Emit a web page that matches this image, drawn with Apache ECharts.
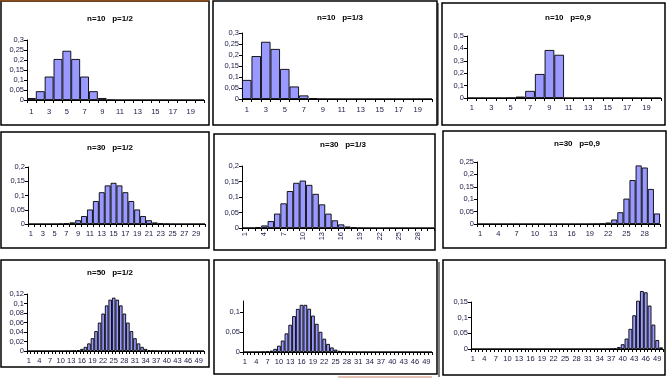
<!DOCTYPE html>
<html><head><meta charset="utf-8">
<script src="https://cdn.jsdelivr.net/npm/echarts@6/dist/echarts.min.js"></script>
<style>html,body{margin:0;padding:0;background:#fff}#c{width:669px;height:378px}</style>
</head><body><div id="c"></div>
<script>
const cats20 = [1,2,3,4,5,6,7,8,9,10,11,12,13,14,15,16,17,18,19,20];
const cats30 = [1,2,3,4,5,6,7,8,9,10,11,12,13,14,15,16,17,18,19,20,21,22,23,24,25,26,27,28,29,30];
const cats50 = [1,2,3,4,5,6,7,8,9,10,11,12,13,14,15,16,17,18,19,20,21,22,23,24,25,26,27,28,29,30,31,32,33,34,35,36,37,38,39,40,41,42,43,44,45,46,47,48,49,50];

const n10p12 = [0.0098,0.0439,0.1172,0.2051,0.2461,0.2051,0.1172,0.0439,0.0098,0.001,0,0,0,0,0,0,0,0,0,0];
const n10p13 = [0.0867,0.1951,0.2601,0.2276,0.1366,0.0569,0.0163,0.0030,0.0003,0.0001,0,0,0,0,0,0,0,0,0,0];
const n10p09 = [0,0,0,0.0001,0.0015,0.0112,0.0574,0.1937,0.3874,0.3487,0,0,0,0,0,0,0,0,0,0];
const n30p12 = [0,0,0,0,0.0001,0.0006,0.0019,0.0055,0.0133,0.0280,0.0509,0.0806,0.1115,0.1354,0.1445,0.1354,0.1115,0.0806,0.0509,0.0280,0.0133,0.0055,0.0019,0.0006,0.0001,0,0,0,0,0];
const n30p13 = [0.0001,0.0005,0.0024,0.0082,0.0223,0.0464,0.0795,0.1192,0.1457,0.1530,0.1391,0.1101,0.0762,0.0463,0.0247,0.0116,0.0048,0.0017,0.0005,0.0002,0,0,0,0,0,0,0,0,0,0];
const n30p09 = [0,0,0,0,0,0,0,0,0,0,0,0,0,0,0,0,0,0,0.0001,0.0004,0.0016,0.0058,0.0180,0.0474,0.1023,0.1771,0.2361,0.2277,0.1413,0.0424];
const n50p12 = [0,0,0,0,0,0,0,0,0,0,0,0.0001,0.0003,0.0008,0.0020,0.0044,0.0087,0.0160,0.0270,0.0419,0.0598,0.0788,0.0960,0.1080,0.1123,0.1080,0.0960,0.0788,0.0598,0.0419,0.0270,0.0160,0.0087,0.0044,0.0020,0.0008,0.0003,0.0001,0,0,0,0,0,0,0,0,0,0,0,0];
const n50p13 = [0,0,0,0,0.0001,0.0004,0.0012,0.0033,0.0077,0.0157,0.0286,0.0465,0.0680,0.0898,0.1078,0.1179,0.1179,0.1081,0.0910,0.0705,0.0504,0.0332,0.0202,0.0114,0.0059,0.0028,0.0013,0.0005,0.0002,0.0001,0,0,0,0,0,0,0,0,0,0,0,0,0,0,0,0,0,0,0,0];
const n50p09 = [0,0,0,0,0,0,0,0,0,0,0,0,0,0,0,0,0,0,0,0,0,0,0,0,0,0,0,0,0,0,0,0,0,0,0,0.0002,0.0007,0.0022,0.0061,0.0152,0.0333,0.0643,0.1076,0.1541,0.1849,0.1809,0.1386,0.0779,0.0286,0.0052];

const titles = ['n=10   p=1/2','n=10   p=1/3','n=10   p=0,9','n=30   p=1/2','n=30   p=1/3','n=30   p=0,9','n=50   p=1/2','',''];

const panels = [
  {cats:cats20, vals:n10p12, g:[27,40,177,60], max:0.3, iv:0.05, li:1, t:[105,10], m:8},
  {cats:cats20, vals:n10p13, g:[242,33,190,66], max:0.3, iv:0.05, li:1, t:[335,9], m:7},
  {cats:cats20, vals:n10p09, g:[467,36,194,62], max:0.5, iv:0.1, li:1, t:[563,9], m:6},
  {cats:cats30, vals:n30p12, g:[28,167,177,57], max:0.2, iv:0.05, li:1, t:[105,139], m:6},
  {cats:cats30, vals:n30p13, g:[242,166,192,62], max:0.2, iv:0.05, li:2, t:[338,136], m:4, rot:90},
  {cats:cats30, vals:n30p09, g:[477,162,183,62], max:0.25, iv:0.05, li:2, t:[572,135], m:6},
  {cats:cats50, vals:n50p12, g:[27,294,177,57], max:0.12, iv:0.02, li:2, t:[105,264], m:6},
  {cats:cats50, vals:n50p13, g:[243,301,189,51], max:0.1275, iv:0.05, li:2, t:[338,264], m:6},
  {cats:cats50, vals:n50p09, g:[471,302,192,47], max:0.15, iv:0.05, li:2, t:[563,264], m:6}
];

const frames = [
  [1,1,208,124],[213,1,224,124],[442,3,223,122],
  [1,132,208,116],[214,134,221,116],[443,131,223,117],
  [1,260,208,107],[214,260,223,114],[443,260,222,115]
];

const txtCol = '#20204a';
const fmt = iv => v => {
  if (v === 0) return '0';
  const r = Math.round(v / iv);
  if (Math.abs(r * iv - v) > 1e-6) return '';
  return String(+v.toFixed(4)).replace('.', ',');
};

const option = {
  animation: false,
  backgroundColor: '#fff',
  title: panels.map((p, i) => ({
    text: titles[i], left: p.t[0], top: p.t[1], textAlign: 'center',
    textStyle: {fontFamily: 'Liberation Sans', fontSize: 8, fontWeight: 'bold', color: '#000'}
  })),
  grid: panels.map(p => ({left: p.g[0], top: p.g[1], width: p.g[2], height: p.g[3], containLabel: false})),
  xAxis: panels.map((p, i) => ({
    type: 'category', gridIndex: i, data: p.cats, boundaryGap: true,
    axisLine: {lineStyle: {color: '#000', width: 1}},
    axisTick: {show: true, interval: 0, length: 3, lineStyle: {color: '#000'}},
    axisLabel: {interval: p.li, fontSize: 7.5, fontFamily: 'Liberation Sans', color: txtCol, margin: p.m, rotate: p.rot || 0},
    splitLine: {show: false}
  })),
  yAxis: panels.map((p, i) => ({
    type: 'value', gridIndex: i, min: 0, max: p.max, interval: p.iv,
    axisLine: {show: true, lineStyle: {color: '#000', width: 1}},
    axisTick: {show: true, length: 3, lineStyle: {color: '#000'}},
    axisLabel: {fontSize: 7.5, fontFamily: 'Liberation Sans', color: txtCol, margin: 3, formatter: fmt(p.iv), showMaxLabel: p.max !== 0.1275},
    splitLine: {show: false}
  })),
  series: panels.map((p, i) => ({
    type: 'bar', xAxisIndex: i, yAxisIndex: i, data: p.vals,
    barCategoryGap: 0, clip: false,
    itemStyle: {color: '#9999ff', borderColor: '#000', borderWidth: 0.9}
  })),
  graphic: frames.map(f => ({
    type: 'rect', shape: {x: f[0], y: f[1], width: f[2], height: f[3]},
    style: {fill: 'none', stroke: '#000', lineWidth: 1.5}, silent: true, z: 100
  })).concat([
    {type: 'line', shape: {x1: 0, y1: 0.7, x2: 209, y2: 0.7}, style: {stroke: '#8a4a1a', lineWidth: 1.4}, z: 101},
    {type: 'line', shape: {x1: 438, y1: 3, x2: 438, y2: 125}, style: {stroke: '#000', lineWidth: 1}, z: 101},
    {type: 'line', shape: {x1: 439, y1: 262, x2: 439, y2: 377}, style: {stroke: '#000', lineWidth: 1}, z: 101},
    {type: 'line', shape: {x1: 338, y1: 377, x2: 432, y2: 377}, style: {stroke: '#c8866a', lineWidth: 1.2}, z: 101}
  ])
};

const chart = echarts.init(document.getElementById('c'), null, {renderer: 'canvas'});
chart.setOption(option);
</script>
</body></html>
